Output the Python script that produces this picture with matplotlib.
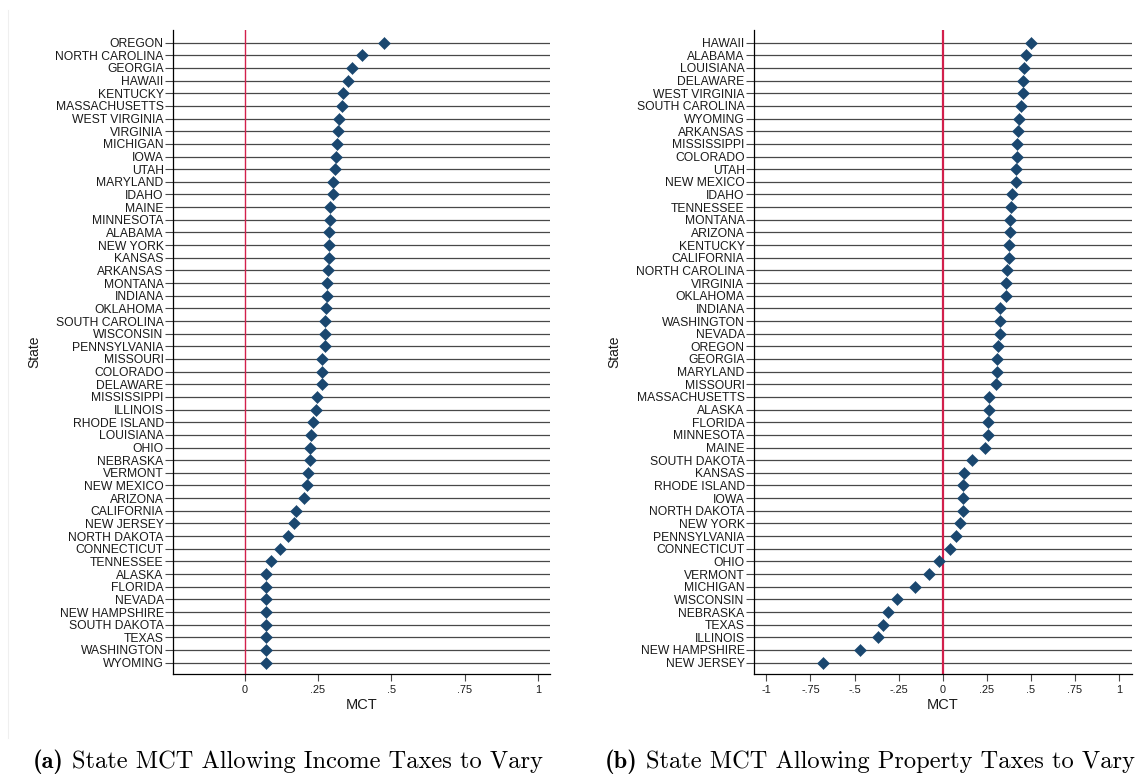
"""
State MCT dot plots, income vs property taxes
"""
import matplotlib
matplotlib.use("Agg")
import matplotlib.pyplot as plt

# Panel (a): income taxes vary
income_states = [
    "OREGON", "NORTH CAROLINA", "GEORGIA", "HAWAII", "KENTUCKY", "MASSACHUSETTS",
    "WEST VIRGINIA", "VIRGINIA", "MICHIGAN", "IOWA", "UTAH", "MARYLAND", "IDAHO",
    "MAINE", "MINNESOTA", "ALABAMA", "NEW YORK", "KANSAS", "ARKANSAS", "MONTANA",
    "INDIANA", "OKLAHOMA", "SOUTH CAROLINA", "WISCONSIN", "PENNSYLVANIA", "MISSOURI",
    "COLORADO", "DELAWARE", "MISSISSIPPI", "ILLINOIS", "RHODE ISLAND", "LOUISIANA",
    "OHIO", "NEBRASKA", "VERMONT", "NEW MEXICO", "ARIZONA", "CALIFORNIA", "NEW JERSEY",
    "NORTH DAKOTA", "CONNECTICUT", "TENNESSEE", "ALASKA", "FLORIDA", "NEVADA",
    "NEW HAMPSHIRE", "SOUTH DAKOTA", "TEXAS", "WASHINGTON", "WYOMING",
]
income_mct = [
    0.476, 0.399, 0.364, 0.352, 0.336, 0.331, 0.322, 0.319, 0.314, 0.311,
    0.307, 0.302, 0.302, 0.292, 0.291, 0.288, 0.287, 0.287, 0.283, 0.281,
    0.279, 0.278, 0.275, 0.273, 0.272, 0.263, 0.263, 0.262, 0.245, 0.244,
    0.234, 0.226, 0.224, 0.221, 0.216, 0.211, 0.201, 0.176, 0.167, 0.146,
    0.119, 0.091, 0.074, 0.074, 0.074, 0.074, 0.074, 0.074, 0.074, 0.074,
]

# Panel (b): property taxes vary
property_states = [
    "HAWAII", "ALABAMA", "LOUISIANA", "DELAWARE", "WEST VIRGINIA", "SOUTH CAROLINA",
    "WYOMING", "ARKANSAS", "MISSISSIPPI", "COLORADO", "UTAH", "NEW MEXICO", "IDAHO",
    "TENNESSEE", "MONTANA", "ARIZONA", "KENTUCKY", "CALIFORNIA", "NORTH CAROLINA",
    "VIRGINIA", "OKLAHOMA", "INDIANA", "WASHINGTON", "NEVADA", "OREGON", "GEORGIA",
    "MARYLAND", "MISSOURI", "MASSACHUSETTS", "ALASKA", "FLORIDA", "MINNESOTA", "MAINE",
    "SOUTH DAKOTA", "KANSAS", "RHODE ISLAND", "IOWA", "NORTH DAKOTA", "NEW YORK",
    "PENNSYLVANIA", "CONNECTICUT", "OHIO", "VERMONT", "MICHIGAN", "WISCONSIN",
    "NEBRASKA", "TEXAS", "ILLINOIS", "NEW HAMPSHIRE", "NEW JERSEY",
]
property_mct = [
    0.498, 0.473, 0.461, 0.455, 0.455, 0.445, 0.433, 0.424, 0.420, 0.420,
    0.416, 0.414, 0.390, 0.388, 0.384, 0.382, 0.378, 0.373, 0.363, 0.359,
    0.357, 0.327, 0.324, 0.322, 0.316, 0.306, 0.306, 0.304, 0.261, 0.261,
    0.259, 0.259, 0.237, 0.165, 0.122, 0.116, 0.116, 0.114, 0.096, 0.073,
    0.039, -0.024, -0.078, -0.157, -0.261, -0.312, -0.341, -0.369, -0.467, -0.680,
]

income_ticks = [0, 0.25, 0.5, 0.75, 1]
income_ticklabels = ["0", ".25", ".5", ".75", "1"]
property_ticks = [-1, -0.75, -0.5, -0.25, 0, 0.25, 0.5, 0.75, 1]
property_ticklabels = ["-1", "-.75", "-.5", "-.25", "0", ".25", ".5", ".75", "1"]

NAVY = "#1a476f"
RED = "#d2204c"
TXT = "#1a1a1a"
SANS = ["Liberation Sans", "DejaVu Sans"]


def dot_panel(ax, states, values, xlim, ticks, ticklabels, zero_lw):
    ypos = list(range(1, len(states) + 1))
    for y in ypos:
        ax.axhline(y, color="#484848", lw=0.9, zorder=1)
    ax.axvline(0, color=RED, lw=zero_lw, zorder=2)
    ax.plot(values, ypos, "D", color=NAVY, ms=6.3, mew=0.4, mec=NAVY, zorder=3)

    ax.set_xlim(*xlim)
    ax.set_ylim(len(states) + 0.9, 0)
    ax.set_yticks(ypos)
    ax.set_yticklabels(states, family=SANS, fontsize=8.7, color=TXT)
    ax.set_xticks(ticks)
    ax.set_xticklabels(ticklabels, family=SANS, fontsize=7.8, color=TXT)
    ax.tick_params(axis="y", length=5.5, width=0.8, color="#484848", pad=1.2)
    ax.tick_params(axis="x", length=5.0, width=0.8, color="#484848", pad=3)

    for side in ["top", "right"]:
        ax.spines[side].set_visible(False)
    for side in ["left", "bottom"]:
        ax.spines[side].set_linewidth(0.9)
        ax.spines[side].set_color("black")

    ax.set_xlabel("MCT", family=SANS, fontsize=10.5, color=TXT)
    ax.set_ylabel("State", family=SANS, fontsize=10, color=TXT)
    ax.yaxis.set_label_coords(-0.35, 0.5)
    ax.xaxis.set_label_coords(0.5, -0.038)


def caption(fig, x, tag, text, size=17.6):
    t = fig.text(x, 1 - 768 / 778, tag, family="cmb10", fontsize=size,
                 ha="left", va="baseline")
    fig.canvas.draw()
    renderer = fig.canvas.get_renderer()
    bb = t.get_window_extent(renderer)
    fig.text((bb.x1 + 8) / fig.bbox.width, 1 - 768 / 778, text, family="cmr10",
             fontsize=size, ha="left", va="baseline")


def main():
    fig = plt.figure(figsize=(11.43, 7.78), dpi=100)
    fig.patch.set_facecolor("white")

    ax_a = fig.add_axes([173 / 1143, 1 - 674 / 778, 377 / 1143, 644 / 778])
    ax_b = fig.add_axes([754 / 1143, 1 - 674 / 778, 378 / 1143, 644 / 778])

    dot_panel(ax_a, income_states, income_mct, (-0.244, 1.04),
              income_ticks, income_ticklabels, 1.0)
    dot_panel(ax_b, property_states, property_mct, (-1.07, 1.073),
              property_ticks, property_ticklabels, 1.6)

    # faint border of the left graph region
    fig.add_artist(plt.Line2D([8 / 1143, 8 / 1143], [1 - 738 / 778, 1 - 10 / 778],
                              color="#efefef", lw=0.8))

    caption(fig, 33 / 1143, "(a)", "State MCT Allowing Income Taxes to Vary")
    caption(fig, 605 / 1143, "(b)", "State MCT Allowing Property Taxes to Vary")

    fig.savefig("out.png", dpi=100)
    plt.close(fig)


if __name__ == "__main__":
    main()
